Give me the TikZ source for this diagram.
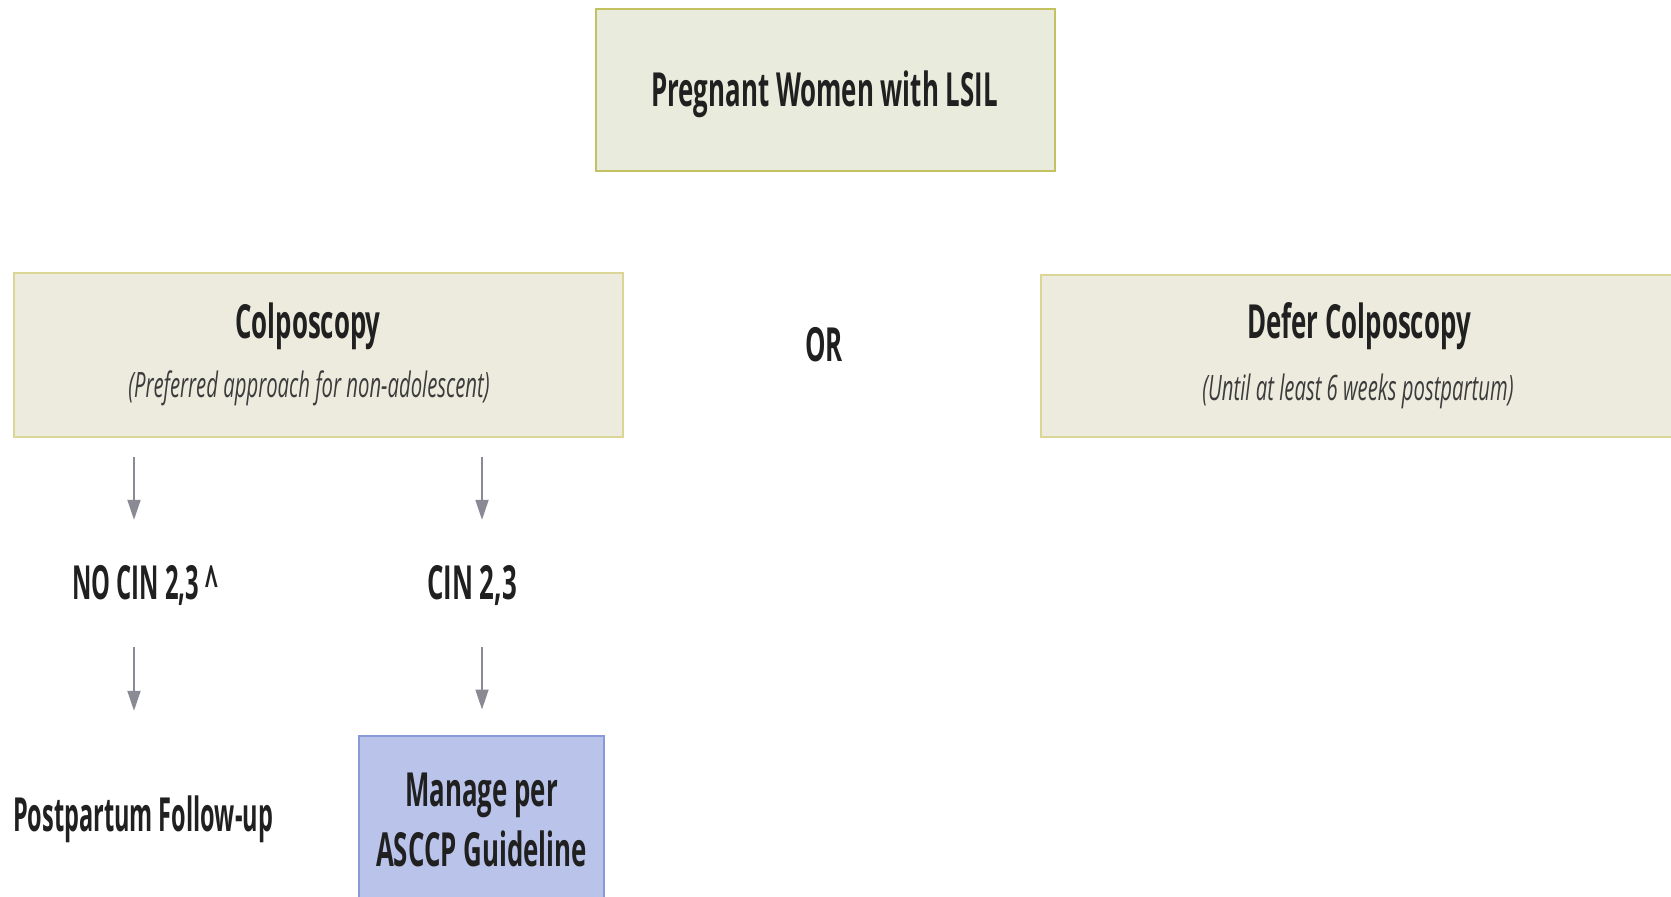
\documentclass[tikz,border=0pt]{standalone}
\usepackage{fontspec}
\setmainfont{Open Sans}[FakeStretch=0.55, ItalicFeatures={FakeStretch=0.58}]
\usetikzlibrary{arrows.meta}

\definecolor{ink}{RGB}{32,32,32}
\definecolor{subink}{RGB}{60,60,60}
\definecolor{greenfill}{RGB}{233,236,221}
\definecolor{greenline}{RGB}{196,194,96}
\definecolor{beigefill}{RGB}{236,235,222}
\definecolor{beigeline}{RGB}{220,214,150}
\definecolor{bluefill}{RGB}{186,196,234}
\definecolor{blueline}{RGB}{138,154,214}
\definecolor{arrowgray}{RGB}{138,138,148}

\begin{document}
\begin{tikzpicture}[x=1pt,y=-1pt,
  label/.style={font=\fontsize{47}{60}\selectfont\bfseries, text=ink,
                inner sep=0pt, anchor=base},
  sublabel/.style={font=\fontsize{35}{40}\selectfont\itshape, text=subink,
                   inner sep=0pt, anchor=base},
  flowtext/.style={label, text height=36pt, text depth=10pt},
  greenbox/.style={draw=greenline, fill=greenfill, line width=2pt,
                   inner sep=0pt},
  beigebox/.style={draw=beigeline, fill=beigefill, line width=2pt,
                   inner sep=0pt},
  bluebox/.style={draw=blueline, fill=bluefill, line width=2pt,
                  inner sep=0pt, align=center,
                  font=\fontsize{47}{60}\selectfont\bfseries, text=ink},
  arr/.style={draw=arrowgray, line width=1.8pt,
              -{Triangle[length=20pt,width=13pt]}},
]
\useasboundingbox (0,0) rectangle (1671,897);
\fill[white] (0,0) rectangle (1671,897);

% top decision box
\node[greenbox, minimum width=459pt, minimum height=162pt] (top) at (825.5,90) {};
\node[label] (toptext) at (824.5,106) {Pregnant Women with LSIL};

% two options
\node[beigebox, minimum width=609pt, minimum height=164pt] (colp) at (318.5,355) {};
\node[label] (colptitle) at (308,338) {Colposcopy};
\node[sublabel] (colpsub) at (309,397) {(Preferred approach for non-adolescent)};

\node[label] (or) at (824,361) {OR};

\node[beigebox, minimum width=660pt, minimum height=162pt] (defer) at (1371,356) {};
\node[label] (defertitle) at (1359,338) {Defer Colposcopy};
\node[sublabel] (defersub) at (1358,400) {(Until at least 6 weeks postpartum)};

% colposcopy outcomes
\node[flowtext] (nocin) at (145,599) {\scalebox{0.92}[1]{NO CIN 2,3 \textasciicircum}};
\node[flowtext] (cin) at (472,599) {CIN 2,3};
\node[flowtext] (post) at (143,831) {\scalebox{0.91}[1]{Postpartum Follow-up}};
\node[bluebox, minimum width=245pt, minimum height=169pt] (manage) at (481.5,820)
  {Manage per\\ASCCP Guideline};

% arrow columns
\coordinate (leftcol) at (134,0);
\coordinate (rightcol) at (482,0);

\draw[arr, shorten <=19pt, shorten >=43pt] (colp.south -| leftcol) -- (nocin.north -| leftcol);
\draw[arr, shorten <=38pt, shorten >=84pt] (nocin.south -| leftcol) -- (post.north -| leftcol);
\draw[arr, shorten <=19pt, shorten >=43pt] (colp.south -| rightcol) -- (cin.north -| rightcol);
\draw[arr, shorten <=38pt, shorten >=25pt] (cin.south -| rightcol) -- (manage.north -| rightcol);
\end{tikzpicture}
\end{document}
